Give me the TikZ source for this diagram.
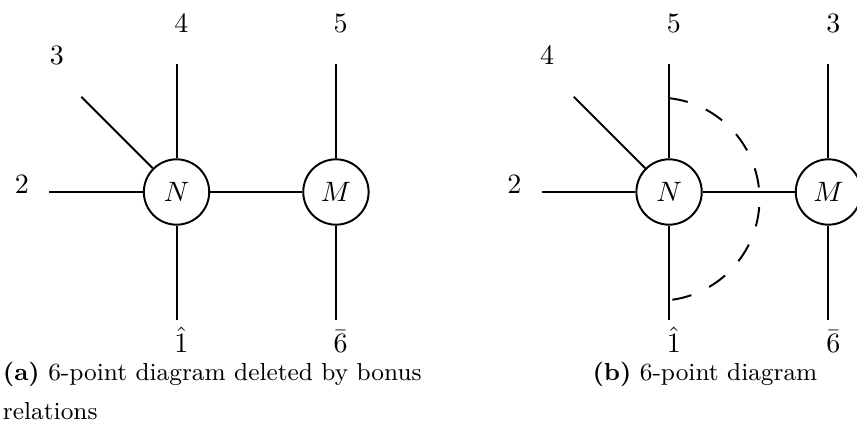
\documentclass[tikz,border=0pt]{standalone}
\usepackage{amsmath}
\usepackage{amssymb}
\usetikzlibrary{calc}

\begin{document}
\begin{tikzpicture}[line width=0.7pt,
    blob/.style={circle, draw, minimum size=0.82cm, inner sep=0pt},
    ext/.style={anchor=base, inner sep=1pt},
    cutline/.style={dash pattern=on 7pt off 7pt},
    capt/.style={inner sep=0pt, font=\fontsize{8.8}{13.8}\selectfont}]

    % 0. Fix the page to the size of the reference
    \useasboundingbox (-2.215,-2.873) rectangle (8.538,2.409);

    % 1. Left diagram: the two blobs
    \node[blob] (N1) at (0,0) {$N$};
    \node[blob] (M1) at (2,0) {$M$};

    % 2. Free ends of its legs
    \coordinate (a2) at ($(N1)+(-1.6,0)$);
    \coordinate (a3) at ($(N1)+(135:1.69)$);
    \coordinate (a4) at ($(N1)+(0,1.6)$);
    \coordinate (a1) at ($(N1)+(0,-1.6)$);
    \coordinate (a5) at ($(M1)+(0,1.6)$);
    \coordinate (a6) at ($(M1)+(0,-1.6)$);

    % 3. Legs and the internal line
    \draw (a2) -- (N1);
    \draw (a3) -- (N1);
    \draw (a4) -- (N1);
    \draw (a1) -- (N1);
    \draw (N1) -- (M1);
    \draw (a5) -- (M1);
    \draw (a6) -- (M1);

    % 4. Particle labels
    \node[ext] (la2) at ($(N1)+(-1.94,-0.02)$) {$2$};
    \node[ext] (la3) at ($(N1)+(-1.5,1.6)$) {$3$};
    \node[ext] (la4) at ($(N1)+(0.06,2.0)$) {$4$};
    \node[ext] (la5) at ($(M1)+(0.06,2.0)$) {$5$};
    \node[ext] (la1) at ($(N1)+(0.06,-2.01)$) {$\hat{1}$};
    \node[ext] (la6) at ($(M1)+(0.06,-2.01)$) {$\bar{6}$};

    % 5. Right diagram: the two blobs
    \node[blob] (N2) at (6.18,0) {$N$};
    \node[blob] (M2) at (8.18,0) {$M$};

    % 6. Free ends of its legs
    \coordinate (b2) at ($(N2)+(-1.6,0)$);
    \coordinate (b4) at ($(N2)+(135:1.69)$);
    \coordinate (b5) at ($(N2)+(0,1.6)$);
    \coordinate (b1) at ($(N2)+(0,-1.6)$);
    \coordinate (b3) at ($(M2)+(0,1.6)$);
    \coordinate (b6) at ($(M2)+(0,-1.6)$);

    % 7. Legs and the internal line
    \draw (b2) -- (N2);
    \draw (b4) -- (N2);
    \draw (b5) -- (N2);
    \draw (b1) -- (N2);
    \draw (N2) -- (M2);
    \draw (b3) -- (M2);
    \draw (b6) -- (M2);

    % 8. Particle labels
    \node[ext] (lb2) at ($(N2)+(-1.94,-0.02)$) {$2$};
    \node[ext] (lb4) at ($(N2)+(-1.53,1.6)$) {$4$};
    \node[ext] (lb5) at ($(N2)+(0.06,2.0)$) {$5$};
    \node[ext] (lb3) at ($(M2)+(0.06,2.0)$) {$3$};
    \node[ext] (lb1) at ($(N2)+(0.06,-2.01)$) {$\hat{1}$};
    \node[ext] (lb6) at ($(M2)+(0.06,-2.01)$) {$\bar{6}$};

    % 9. The dashed cut round N
    \draw[cutline] ($(N2)+(-0.007,1.178)$) arc[start angle=84, end angle=-84, radius=1.275];

    % 10. Captions
    \node[capt, anchor=north west, align=left] (capa) at (-2.19,-2.12)
        {\textbf{(a)} 6-point diagram deleted by bonus\\relations};
    \node[capt, anchor=north] (capb) at ($(N2)+(0.45,-2.12)$)
        {\textbf{(b)} 6-point diagram};

\end{tikzpicture}
\end{document}
